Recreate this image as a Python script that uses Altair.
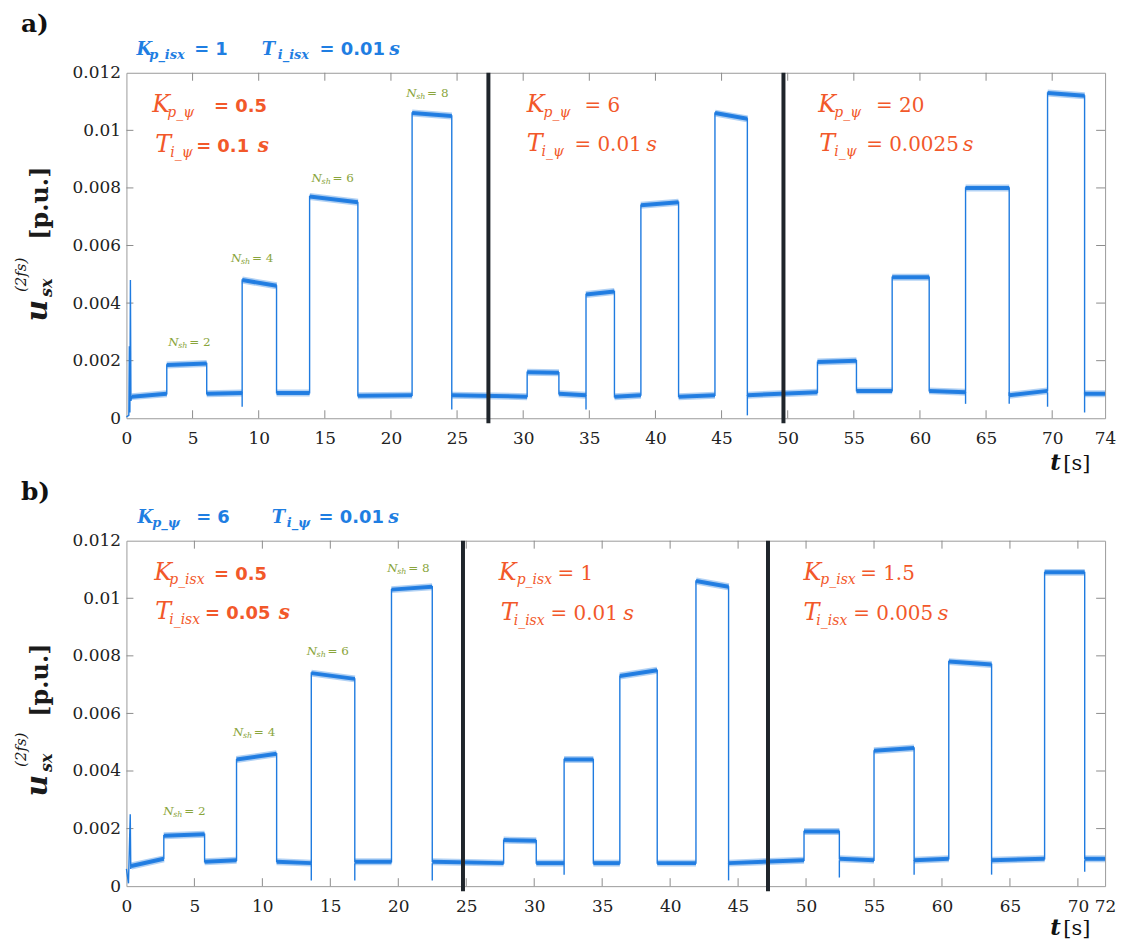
import altair as alt
import pandas as pd

BLUE = "#1f7be0"
HEAD = "#1f7ee2"
ORANGE = "#f2582a"
GREEN = "#8aa53c"
DARK = "#1f252b"
TICK = "#8c8c8c"
SERIF = "DejaVu Serif"
SANS = "DejaVu Sans"

W, H = 983, 347

# ---------------- panel a) ----------------
# plateaus of the measured u_sx^(2fs) trace: start / end time [s] and level at start / end [p.u.]
A_T0 = [0.40, 3.05, 6.07, 8.75, 11.35, 13.85, 17.50, 21.60, 24.60, 30.30, 32.70, 34.75, 36.90,
        38.90, 41.75, 44.50, 46.95, 52.25, 55.20, 57.90, 60.70, 63.45, 66.75, 69.65, 72.45]
A_T1 = [3.05, 6.07, 8.75, 11.35, 13.85, 17.50, 21.60, 24.60, 30.30, 32.70, 34.75, 36.90, 38.90,
        41.75, 44.50, 46.95, 52.25, 55.20, 57.90, 60.70, 63.45, 66.75, 69.65, 72.45, 74.00]
A_V0 = [0.00075, 0.00185, 0.00085, 0.00480, 0.00088, 0.00770, 0.00078, 0.01060, 0.00080, 0.00160,
        0.00085, 0.00430, 0.00075, 0.00740, 0.00075, 0.01060, 0.00080, 0.00195, 0.00095, 0.00490,
        0.00095, 0.00800, 0.00080, 0.01130, 0.00085]
A_V1 = [0.00085, 0.00190, 0.00088, 0.00460, 0.00088, 0.00750, 0.00080, 0.01050, 0.00075, 0.00158,
        0.00080, 0.00440, 0.00080, 0.00750, 0.00080, 0.01040, 0.00090, 0.00200, 0.00095, 0.00490,
        0.00090, 0.00800, 0.00095, 0.01120, 0.00085]
# start-up transient
A_LEAD_T = [0.00, 0.18, 0.22, 0.26, 0.30, 0.34]
A_LEAD_V = [0.00005, 0.00010, 0.00250, 0.00020, 0.00480, 0.00060]
# short switching spikes: time, lowest and highest value
A_SPIKE_T = [8.75, 24.60, 27.37, 34.75, 46.95, 49.68, 63.45, 66.75, 69.65, 72.45]
A_SPIKE_LO = [0.00040, 0.00030, 0.00000, 0.00030, 0.00010, 0.00000, 0.00050, 0.00050, 0.00040, 0.00020]
A_SPIKE_HI = [0.00090, 0.00080, 0.00210, 0.00080, 0.00080, 0.00170, 0.00090, 0.00090, 0.00090, 0.00090]
A_DIVIDERS = [27.37, 49.68]
A_XLAB = [0, 5, 10, 15, 20, 25, 30, 35, 40, 45, 50, 55, 60, 65, 70, 74]
A_XTICK = [5, 10, 15, 20, 25, 30, 35, 40, 45, 50, 55, 60, 65, 70]

# ---------------- panel b) ----------------
B_T0 = [0.35, 2.75, 5.75, 8.10, 11.05, 13.60, 16.80, 19.50, 22.50, 27.75, 30.15, 32.20, 34.35,
        36.30, 39.05, 41.90, 44.30, 49.85, 52.45, 55.00, 57.95, 60.50, 63.65, 67.55, 70.50]
B_T1 = [2.75, 5.75, 8.10, 11.05, 13.60, 16.80, 19.50, 22.50, 27.75, 30.15, 32.20, 34.35, 36.30,
        39.05, 41.90, 44.30, 49.85, 52.45, 55.00, 57.95, 60.50, 63.65, 67.55, 70.50, 72.00]
B_V0 = [0.00070, 0.00175, 0.00085, 0.00440, 0.00085, 0.00740, 0.00085, 0.01030, 0.00085, 0.00160,
        0.00080, 0.00440, 0.00080, 0.00730, 0.00080, 0.01060, 0.00080, 0.00190, 0.00095, 0.00470,
        0.00090, 0.00780, 0.00090, 0.01090, 0.00095]
B_V1 = [0.00095, 0.00180, 0.00090, 0.00460, 0.00080, 0.00720, 0.00085, 0.01040, 0.00080, 0.00158,
        0.00080, 0.00440, 0.00080, 0.00750, 0.00080, 0.01040, 0.00090, 0.00190, 0.00090, 0.00480,
        0.00095, 0.00770, 0.00095, 0.01090, 0.00095]
B_LEAD_T = [0.00, 0.15, 0.28, 0.32]
B_LEAD_V = [0.00060, 0.00010, 0.00250, 0.00060]
B_SPIKE_T = [13.60, 16.80, 22.50, 24.76, 32.20, 44.30, 47.20, 52.45, 57.95, 63.65, 70.50]
B_SPIKE_LO = [0.00020, 0.00020, 0.00020, 0.00000, 0.00040, 0.00020, 0.00000, 0.00030, 0.00040, 0.00040, 0.00050]
B_SPIKE_HI = [0.00080, 0.00080, 0.00080, 0.00200, 0.00080, 0.00080, 0.00090, 0.00090, 0.00090, 0.00090, 0.00090]
B_DIVIDERS = [24.76, 47.20]
B_XLAB = [0, 5, 10, 15, 20, 25, 30, 35, 40, 45, 50, 55, 60, 65, 70, 72]
B_XTICK = [5, 10, 15, 20, 25, 30, 35, 40, 45, 50, 55, 60, 65, 70]

Y_LAB = [0, 0.002, 0.004, 0.006, 0.008, 0.010, 0.012]
Y_TICK = [0.002, 0.004, 0.006, 0.008, 0.010]

# controller settings written on each panel
# (symbol, subscript, value, unit, x symbol, x subscript, x value, x unit, baseline, style)
A_FORMULAS = [
    ("K", "p_isx", "= 1", None, 10, 23, 68, None, -18, "head"),
    ("T", "i_isx", "= 0.01", "s", 136, 152, 194, 264, -18, "head"),
    ("K", "p_ψ", "= 0.5", None, 26, 41, 88, None, 39, "sans"),
    ("T", "i_ψ", "= 0.1", "s", 29, 44, 70, 132, 80, "sans"),
    ("K", "p_ψ", "= 6", None, 402, 419, 460, None, 39, "serif"),
    ("T", "i_ψ", "= 0.01", "s", 402, 417, 450, 522, 79, "serif"),
    ("K", "p_ψ", "= 20", None, 695, 711, 753, None, 39, "serif"),
    ("T", "i_ψ", "= 0.0025", "s", 696, 711, 743, 840, 79, "serif"),
]
B_FORMULAS = [
    ("K", "p_ψ", "= 6", None, 11, 26, 70, None, -18, "head"),
    ("T", "i_ψ", "= 0.01", "s", 146, 161, 193, 263, -18, "head"),
    ("K", "p_isx", "= 0.5", None, 28, 43, 88, None, 39, "sans"),
    ("T", "i_isx", "= 0.05", "s", 29, 43, 79, 153, 79, "sans"),
    ("K", "p_isx", "= 1", None, 374, 392, 433, None, 39, "serif"),
    ("T", "i_isx", "= 0.01", "s", 376, 389, 426, 499, 80, "serif"),
    ("K", "p_isx", "= 1.5", None, 680, 697, 737, None, 39, "serif"),
    ("T", "i_isx", "= 0.005", "s", 680, 693, 730, 815, 80, "serif"),
]
# number of shunted turns marked above each step: (centre x, baseline, N_sh)
A_NSH = [(66, 274, 2), (129, 190, 4), (210, 110, 6), (305, 24, 8)]
B_NSH = [(61, 276, 2), (131, 196, 4), (205, 115, 6), (286, 31, 8)]
# rotated y title pieces: (centre x, centre y) for "[p.u.]", "u", "sx", "(2fs)"
A_YTITLE = [(-86, 131), (-89, 239), (-80, 216), (-106, 203)]
B_YTITLE = [(-86, 140), (-89, 246), (-80, 223), (-106, 210)]

STYLES = {
    "head": dict(color=HEAD, big=18, big_w="bold", sub=13, sub_dy=4,
                 val_font=SANS, val=18, val_w="bold", unit=19, unit_w="bold"),
    "sans": dict(color=ORANGE, big=24, big_w="normal", sub=14, sub_dy=5,
                 val_font=SANS, val=18, val_w="bold", unit=20, unit_w="bold"),
    "serif": dict(color=ORANGE, big=24, big_w="normal", sub=14, sub_dy=5,
                  val_font=SERIF, val=20, val_w="normal", unit=21, unit_w="normal"),
}

ONE = pd.DataFrame({"k": [0]})


def txt(x, y, s, color, size, font=SERIF, weight="normal", style="normal",
        align="left", baseline="alphabetic", angle=0):
    return alt.Chart(ONE).mark_text(
        text=s, color=color, font=font, fontSize=size, fontWeight=weight,
        fontStyle=style, align=align, baseline=baseline, angle=angle,
    ).encode(x=alt.value(x), y=alt.value(y))


def formula_layers(items):
    out = []
    for big, sub, val, unit, xb, xs, xv, xu, y, kind in items:
        st = STYLES[kind]
        c = st["color"]
        out.append(txt(xb, y, big, c, st["big"], weight=st["big_w"], style="italic"))
        out.append(txt(xs, y + st["sub_dy"], sub, c, st["sub"], weight=st["big_w"], style="italic"))
        out.append(txt(xv, y, val, c, st["val"], font=st["val_font"], weight=st["val_w"]))
        if unit:
            out.append(txt(xu, y, unit, c, st["unit"], weight=st["unit_w"], style="italic"))
    return out


def nsh_layers(items):
    out = []
    for cx, y, n in items:
        out.append(txt(cx - 24, y, "N", GREEN, 12, style="italic"))
        out.append(txt(cx - 14, y + 2, "sh", GREEN, 8, style="italic"))
        out.append(txt(cx - 3, y, f"= {n}", GREEN, 12))
    return out


def ytitle_layers(pos):
    (xp, yp), (xu, yu), (xs, ys), (xf, yf) = pos
    kw = dict(align="center", baseline="middle", angle=270)
    return [
        txt(xp, yp, "[p.u.]", "#1a1a1a", 24, weight="bold", **kw),
        txt(xu, yu, "u", "#1a1a1a", 30, weight="bold", style="italic", **kw),
        txt(xs, ys, "sx", "#1a1a1a", 16, weight="bold", style="italic", **kw),
        txt(xf, yf, "(2fs)", "#1a1a1a", 15, style="italic", **kw),
    ]


def panel(tag, t0, t1, v0, v1, lead_t, lead_v, sp_t, sp_lo, sp_hi, dividers,
          xmax, xlab, xtick, formulas, nsh, ytitle, unit_dy):
    rows = []
    for t, v in zip(lead_t, lead_v):
        rows.append({"t": t, "v": v, "i": len(rows), "seg": -1})
    for k, (a, b, p, q) in enumerate(zip(t0, t1, v0, v1)):
        rows.append({"t": a, "v": p, "i": len(rows), "seg": k})
        rows.append({"t": b, "v": q, "i": len(rows), "seg": k})
    trace = pd.DataFrame(rows)
    plateaus = trace[trace["seg"] >= 0]
    spikes = pd.DataFrame({"t": sp_t, "lo": sp_lo, "hi": sp_hi})

    xs = alt.Scale(domain=[0, xmax], nice=False, zero=False)
    ys = alt.Scale(domain=[0, 0.012], nice=False, zero=False)
    xax = alt.Axis(values=xlab, labelPadding=12, labelOverlap=False, labelFlush=False,
                   title=None, format="d")
    yax = alt.Axis(values=Y_LAB, labelPadding=6, labelOverlap=False, labelFlush=False,
                   title=None, format=".3~f")
    X = alt.X("t:Q", scale=xs, axis=xax)
    Y = alt.Y("v:Q", scale=ys, axis=yax)

    layers = []
    # inward tick marks on all four sides of the frame
    xt = pd.DataFrame({"t": xtick})
    yt = pd.DataFrame({"v": Y_TICK})
    layers.append(alt.Chart(xt).mark_rule(color=TICK, strokeWidth=1).encode(
        x=X, y=alt.value(H), y2=alt.value(H - 8)))
    layers.append(alt.Chart(xt).mark_rule(color=TICK, strokeWidth=1).encode(
        x=X, y=alt.value(0), y2=alt.value(8)))
    layers.append(alt.Chart(yt).mark_rule(color=TICK, strokeWidth=1).encode(
        y=Y, x=alt.value(0), x2=alt.value(7)))
    layers.append(alt.Chart(yt).mark_rule(color=TICK, strokeWidth=1).encode(
        y=Y, x=alt.value(W - 9), x2=alt.value(W)))

    # measured trace: thin line for the whole record, a soft halo and a heavier
    # stroke for the noisy plateaus
    layers.append(alt.Chart(plateaus).mark_line(color=BLUE, strokeWidth=7, opacity=0.35,
                                                strokeCap="butt").encode(
        x=X, y=Y, detail="seg:N", order="i:Q"))
    layers.append(alt.Chart(trace).mark_line(color=BLUE, strokeWidth=1.4).encode(
        x=X, y=Y, order="i:Q"))
    layers.append(alt.Chart(plateaus).mark_line(color=BLUE, strokeWidth=4, opacity=0.95,
                                                strokeCap="butt").encode(
        x=X, y=Y, detail="seg:N", order="i:Q"))
    layers.append(alt.Chart(spikes).mark_rule(color=BLUE, strokeWidth=1.4).encode(
        x=X, y=alt.Y("lo:Q", scale=ys, axis=yax), y2="hi:Q"))

    # controller switch-over instants
    layers.append(alt.Chart(pd.DataFrame({"t": dividers})).mark_rule(
        color=DARK, strokeWidth=4).encode(x=X, y=alt.value(0), y2=alt.value(H + 5)))

    layers += formula_layers(formulas)
    layers += nsh_layers(nsh)
    layers += ytitle_layers(ytitle)
    layers.append(txt(-106, -41, tag, "#111111", 25, weight="bold"))
    layers.append(txt(928, H + unit_dy, "t", "#111111", 23, weight="bold", style="italic"))
    layers.append(txt(941, H + unit_dy, "[s]", "#111111", 21))

    return alt.layer(*layers).properties(width=W, height=H)


pa = panel("a)", A_T0, A_T1, A_V0, A_V1, A_LEAD_T, A_LEAD_V, A_SPIKE_T, A_SPIKE_LO,
           A_SPIKE_HI, A_DIVIDERS, 74, A_XLAB, A_XTICK, A_FORMULAS, A_NSH, A_YTITLE, 52)
pb = panel("b)", B_T0, B_T1, B_V0, B_V1, B_LEAD_T, B_LEAD_V, B_SPIKE_T, B_SPIKE_LO,
           B_SPIKE_HI, B_DIVIDERS, 72, B_XLAB, B_XTICK, B_FORMULAS, B_NSH, B_YTITLE, 49)

chart = alt.vconcat(pa, pb, spacing=3).properties(
    padding={"left": 13, "top": 9, "right": 5, "bottom": 0},
    background="white",
).configure_axis(
    labelFont=SERIF, labelFontSize=17, labelColor="#222222",
    grid=False, domain=False, ticks=False,
).configure_view(stroke="#9a9a9a", strokeWidth=1)

chart.save("out.html", embed_options={"renderer": "svg", "actions": False})
